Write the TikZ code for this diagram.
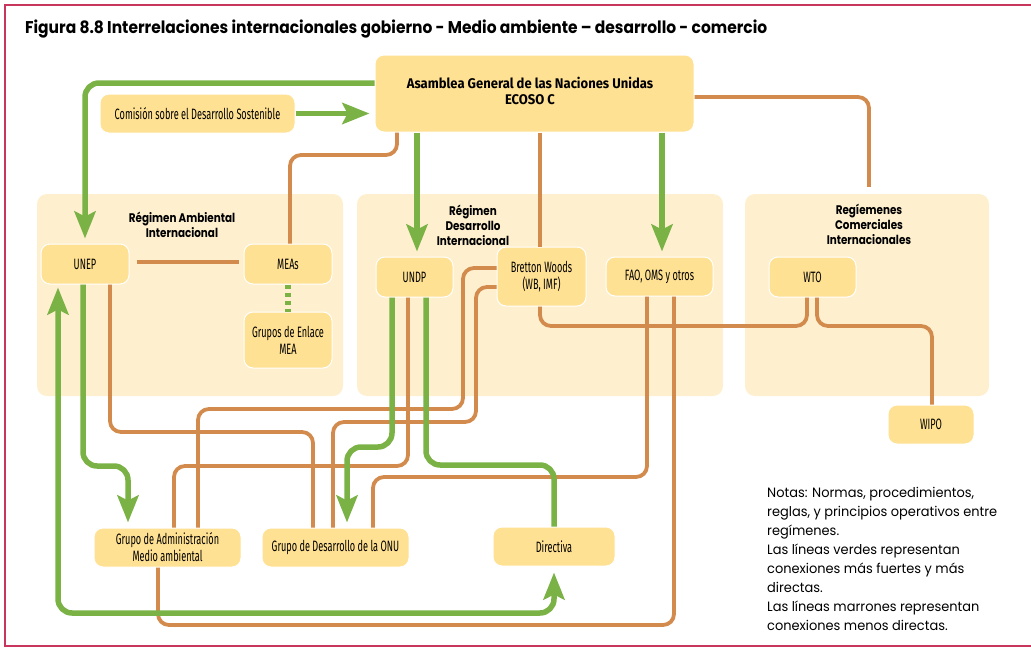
\documentclass[tikz,border=0pt]{standalone}
\usepackage{fontspec}
\setmainfont{Poppins}[FakeStretch=0.96]
\newfontfamily\titfont[FakeStretch=0.91]{Poppins}
\newfontfamily\zonafont[FakeStretch=0.83]{Poppins}
\newfontfamily\condfont[FakeStretch=0.61]{Fira Sans}
\newfontfamily\asamfont[FakeStretch=0.93]{Fira Sans}
\usetikzlibrary{arrows.meta}

\definecolor{verde}{HTML}{7AB246}
\definecolor{marron}{HTML}{D38A4D}
\definecolor{amarillo}{HTML}{FFE193}
\definecolor{crema}{HTML}{FEF0CE}
\definecolor{marco}{HTML}{C8365E}

\begin{document}
\begin{tikzpicture}[x=1pt,y=-1pt,
	caja/.style={fill=amarillo, draw=white, line width=1pt, rounded corners=9pt, inner sep=0pt, align=center, font=\condfont\fontsize{15}{17}\selectfont},
	zona/.style={fill=crema, rounded corners=10pt, inner sep=0pt},
	titzona/.style={align=center, font=\zonafont\bfseries\fontsize{12.5}{15}\selectfont},
	lineav/.style={draw=verde, line width=5.5pt, rounded corners=14pt},
	flechav/.style={lineav, -{Stealth[length=27pt,width=21pt,inset=5pt]}, shorten >=5pt},
	lineam/.style={draw=marron, line width=3.8pt, rounded corners=11pt}]
	\useasboundingbox (0,0) rectangle (1031,648);
	% Marco y titulo
	\draw[marco, line width=1.5pt] (1035,5) -- (5,5) -- (5,646) -- (1035,646);
	\node[anchor=base west, inner sep=0pt, font=\titfont\bfseries\fontsize{17}{20}\selectfont] (titulo) at (25,33) {Figura 8.8 Interrelaciones internacionales gobierno - Medio ambiente – desarrollo - comercio};
	
	% Regimenes
	\node[zona, minimum width=306pt, minimum height=202pt] (ramb) at (190,295) {};
	\node[zona, minimum width=366pt, minimum height=202pt] (rdes) at (540,295) {};
	\node[zona, minimum width=244pt, minimum height=202pt] (rcom) at (867,295) {};
	\node[titzona] (tamb) at (182,224.5) {Régimen Ambiental\\Internacional};
	\node[titzona] (tdes) at (473,225) {Régimen\\Desarrollo\\Internacional};
	\node[titzona] (tcom) at (869,224) {Regíemenes\\Comerciales\\Internacionales};
	
	% Cajas
	\node[caja, minimum width=319pt, minimum height=77pt] (asam) at (534.5,93.5) {};
	\node[align=center, inner sep=0pt, font=\asamfont\bfseries\fontsize{14}{16}\selectfont] (asamtxt) at (530,90.5) {Asamblea General de las Naciones Unidas\\ECOSO C};
	\node[caja, minimum width=195pt, minimum height=39pt] (comis) at (197.5,113.5) {Comisión sobre el Desarrollo Sostenible};
	\node[caja, minimum width=88pt, minimum height=40pt] (unep) at (85,264) {UNEP};
	\node[caja, minimum width=88pt, minimum height=40pt] (meas) at (288,264) {MEAs};
	\node[caja, minimum width=88pt, minimum height=56pt] (enlace) at (288,340) {Grupos de Enlace\\MEA};
	\node[caja, minimum width=77pt, minimum height=40pt] (undp) at (414.5,277) {UNDP};
	\node[caja, minimum width=89pt, minimum height=59pt] (bretton) at (541.5,276.5) {Bretton Woods\\(WB, IMF)};
	\node[caja, minimum width=107pt, minimum height=39pt] (fao) at (659.5,276.5) {FAO, OMS y otros};
	\node[caja, minimum width=87pt, minimum height=40pt] (wto) at (812.5,277) {WTO};
	\node[caja, minimum width=86pt, minimum height=39pt] (wipo) at (931,424.5) {WIPO};
	\node[caja, minimum width=147pt, minimum height=39pt] (gadm) at (167.5,547.5) {Grupo de Administración\\Medio ambiental};
	\node[caja, minimum width=147pt, minimum height=39pt] (gonu) at (335.5,547.5) {Grupo de Desarrollo de la ONU};
	\node[caja, minimum width=122pt, minimum height=39pt] (direc) at (554,546.5) {Directiva};
	
	% Conexiones marrones
	\draw[lineam, shorten <=7pt, shorten >=5pt] (unep.east |- 0,262) -- (meas.west |- 0,262);
	\draw[lineam] (asam.south -| 397,0) -- (397,155) -| (meas.north -| 290,0);
	\draw[lineam] (asam.south -| 540,0) -- (bretton.north -| 540,0);
	\draw[lineam, shorten >=7pt] (asam.east |- 0,97) -| (rcom.north -| 869,0);
	\draw[lineam] (bretton.south -| 540,0) -- (540,326) -| (wto.south -| 807,0);
	\draw[lineam] (wto.south -| 817,0) -- (817,326) -| (wipo.north -| 932,0);
	\draw[lineam] (bretton.west |- 0,268) -| (463,409) -| (gadm.north -| 198,0);
	\draw[lineam] (bretton.west |- 0,287) -| (476,422) -| (gonu.north -| 333,0);
	\draw[lineam] (undp.south -| 408,0) -- (408,466) -| (gadm.north -| 174,0);
	\draw[lineam] (unep.south -| 110,0) -- (110,432) -| (gonu.north -| 313,0);
	\draw[lineam] (fao.south -| 647,0) -- (647,477) -| (gonu.north -| 373,0);
	\draw[lineam] (fao.south -| 674,0) -- (674,625) -| (gadm.south -| 158,0);
	
	% Conexiones verdes
	\draw[flechav] (asam.west |- 0,83) -| (unep.north);
	\draw[flechav] (comis.east) -- (asam.west |- comis.east);
	\draw[flechav] (asam.south -| 417,0) -- (undp.north -| 417,0);
	\draw[flechav] (asam.south -| 662,0) -- (fao.north -| 662,0);
	\draw[flechav] (unep.south -| 83,0) -- (83,466) -| (gadm.north -| 128,0);
	\draw[flechav, {Stealth[length=27pt,width=21pt,inset=5pt]}-{Stealth[length=27pt,width=21pt,inset=5pt]}, shorten <=3pt, shorten >=6pt] (unep.south -| 58,0) -- (58,613) -| (direc.south);
	\draw[flechav] (undp.south -| 392,0) -- (392,447) -| (gonu.north -| 347,0);
	\draw[lineav] (undp.south -| 426,0) -- (426,465) -| (direc.north);
	\draw[verde, line width=5.5pt, dash pattern=on 4pt off 4pt] (meas.south) -- (enlace.north);
	
	% Notas
	\node[anchor=north west, inner sep=0pt, align=left, font=\fontsize{13.5}{19}\selectfont] (notas) at (767,487) {Notas: Normas, procedimientos,\\reglas, y principios operativos entre\\regímenes.\\Las líneas verdes representan\\conexiones más fuertes y más\\directas.\\Las líneas marrones representan\\conexiones menos directas.};
\end{tikzpicture}
\end{document}
